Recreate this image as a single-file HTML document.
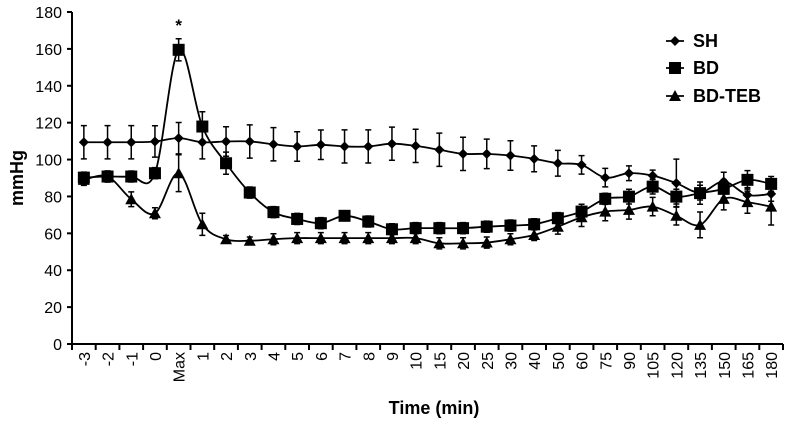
<!DOCTYPE html>
<html><head><meta charset="utf-8"><style>
html,body{margin:0;padding:0;background:#fff}
svg{display:block;font-family:"Liberation Sans",Arial,sans-serif}
</style></head><body>
<svg id="chart" width="788" height="423" viewBox="0 0 788 423"></svg>
<script>
const categories=["-3","-2","-1","0","Max","1","2","3","4","5","6","7","8","9","10","15","20","25","30","40","50","60","75","90","105","120","135","150","165","180"];
const shValues=[109.4,109.4,109.4,109.8,111.6,109.4,109.8,109.8,108.3,107.1,108,107.1,107.1,108.6,107.4,105.3,103.1,103.1,102.2,100.4,98,97.1,90.2,92.6,91.3,87.2,82.1,88.1,80.8,81.4];
const shErrors=[9,9,9,8.5,8.5,9,8,9,9,8,8,9,9,9,9,9,9,8,8,7,7,5,5,4,3,13,4,5,4,4];
const bdValues=[90.2,90.8,90.8,92.6,159.5,117.9,98,82.1,71.5,67.8,65.5,69.5,66.4,62.2,62.8,62.8,62.8,63.6,64.2,64.9,68.2,71.8,78.7,79.9,85.3,79.9,81.8,84.1,89,86.8];
const bdErrors=[3,3,3,3,6,8,6,3,3,3,3,2,3,3,3,3,3,3,3,3,3,4,3,4,4,4,6,5,5,4];
const tebValues=[89,90.8,78.5,70.9,92.6,64.9,56.8,56,56.8,57.4,57.4,57.4,57.4,57.4,57.4,54.6,54.6,55,56.8,59.1,63.6,68.7,71.8,72.7,74.5,69.5,64.6,78.7,76.9,74.5];
const tebErrors=[3,3,4,3,10,6,2,2,3,3,3,3,3,3,3,3,3,3,3,3,4,5,5,5,5,5,7,6,6,10];
const yTicks=[0,20,40,60,80,100,120,140,160,180];

const NS="http://www.w3.org/2000/svg";
const svg=document.getElementById("chart");
const X0=72,X1=783,Y0=344,YT=12,YMAX=180;
const step=(X1-X0)/categories.length;
function xScale(i){return X0+step*(i+0.5);}
function yScale(v){return Y0-(v/YMAX)*(Y0-YT);}
function mk(tag,attrs,parent){const e=document.createElementNS(NS,tag);for(const k in attrs)e.setAttribute(k,attrs[k]);(parent||svg).appendChild(e);return e;}

const axes=mk("g",{stroke:"#000","stroke-width":2});


mk("line",{x1:X0,y1:YT,x2:X0,y2:Y0+1},axes);
mk("line",{x1:X0-1,y1:Y0,x2:X1,y2:Y0},axes);
yTicks.forEach(t=>{
  const y=yScale(t);
  mk("line",{x1:X0-5,y1:y,x2:X0,y2:y},axes);
  const tx=mk("text",{x:X0-10,y:y+6,"text-anchor":"end","font-size":16,fill:"#000"});
  tx.textContent=t;
  
  
});
for(let i=0;i<=categories.length;i++){
  const x=X0+step*i;
  mk("line",{x1:x,y1:Y0,x2:x,y2:Y0+6},axes);
}
categories.forEach((c,i)=>{
  const x=xScale(i);
  const tx=mk("text",{x:0,y:0,transform:`translate(${x+6},352) rotate(-90)`,"text-anchor":"end","font-size":16,fill:"#000"});
  tx.textContent=c;
  
  
});
const yt=mk("text",{x:0,y:0,transform:"translate(23,178) rotate(-90)","text-anchor":"middle","font-size":18,"font-weight":"bold",fill:"#000"});
yt.textContent="mmHg";


const xt=mk("text",{x:434,y:414,"text-anchor":"middle","font-size":18,"font-weight":"bold",fill:"#000"});
xt.textContent="Time (min)";


const star=mk("text",{x:xScale(4),y:31,"text-anchor":"middle","font-size":17,"font-weight":"bold",fill:"#000"});
star.textContent="*";



function smoothPath(pts){
  let d=`M${pts[0][0]},${pts[0][1]}`;
  for(let i=0;i<pts.length-1;i++){
    const p0=pts[i-1]||pts[i],p1=pts[i],p2=pts[i+1],p3=pts[i+2]||p2;
    const t=1/6;
    const c1=[p1[0]+(p2[0]-p0[0])*t,p1[1]+(p2[1]-p0[1])*t];
    const c2=[p2[0]-(p3[0]-p1[0])*t,p2[1]-(p3[1]-p1[1])*t];
    d+=` C${c1[0]},${c1[1]} ${c2[0]},${c2[1]} ${p2[0]},${p2[1]}`;
  }
  return d;
}
function marker(g,type,x,y){
  if(type==="diamond")return mk("path",{d:`M${x},${y-5}L${x+5},${y}L${x},${y+5}L${x-5},${y}Z`,fill:"#000"},g);
  if(type==="square")return mk("rect",{x:x-6,y:y-6,width:12,height:12,fill:"#000"},g);
  return mk("path",{d:`M${x},${y-6}L${x+6},${y+5}L${x-6},${y+5}Z`,fill:"#000"},g);
}
function series(name,vals,errs,type){
  const g=mk("g",{});
  
  
  vals.forEach((v,i)=>{
    const x=xScale(i),e=errs[i];
    const eb=mk("path",{d:`M${x},${yScale(v+e)}V${yScale(v-e)}M${x-3},${yScale(v+e)}H${x+3}M${x-3},${yScale(v-e)}H${x+3}`,stroke:"#000","stroke-width":1.5,fill:"none"},g);
    
    
  });
  const pts=vals.map((v,i)=>[xScale(i),yScale(v)]);
  const ln=mk("path",{d:smoothPath(pts),stroke:"#000","stroke-width":1.8,fill:"none"},g);
  
  
  pts.forEach(p=>{
    const m=marker(g,type,p[0],p[1]);
    
    
  });
}
series("sh",shValues,shErrors,"diamond");
series("bd",bdValues,bdErrors,"square");
series("bd-teb",tebValues,tebErrors,"triangle");

const lg=mk("g",{});


[["SH","diamond",41],["BD","square",68],["BD-TEB","triangle",96]].forEach(([t,type,y])=>{
  const e=mk("g",{},lg);
  
  
  mk("line",{x1:666,y1:y,x2:684,y2:y,stroke:"#000","stroke-width":1.8},e);
  marker(e,type,675,y);
  const tx=mk("text",{x:693,y:y+6,"font-size":18,"font-weight":"bold",fill:"#000"},e);
  tx.textContent=t;
});
</script>
</body></html>
